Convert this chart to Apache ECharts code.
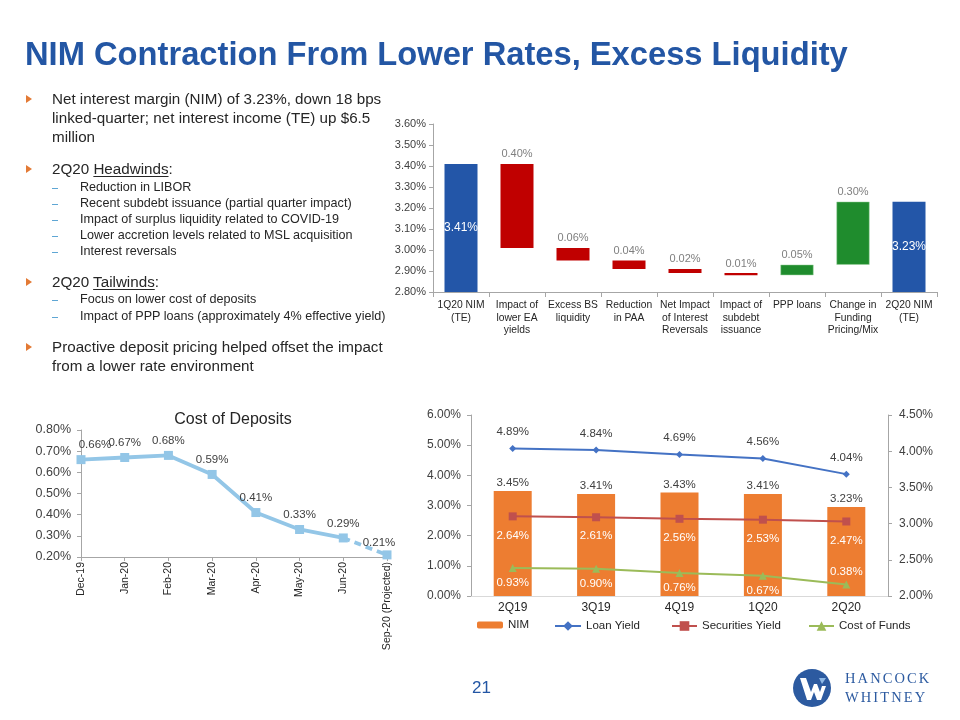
<!DOCTYPE html>
<html>
<head>
<meta charset="utf-8">
<script src="https://cdn.jsdelivr.net/npm/echarts@6/dist/echarts.min.js"></script>
<style>
html,body{margin:0;padding:0;background:#fff;}
#wrap{position:relative;width:960px;height:720px;overflow:hidden;font-family:'Liberation Sans',Arial,sans-serif;}
#chart{position:absolute;left:0;top:0;width:960px;height:720px;}
.abs{position:absolute;white-space:nowrap;}
.title{left:25px;top:37px;font-size:32.7px;line-height:33px;font-weight:bold;color:#2356A4;}
.main{left:52px;font-size:15.2px;line-height:19px;color:#262626;}
.sub{left:80px;font-size:12.6px;line-height:16px;color:#262626;}
.tri{position:absolute;width:0;height:0;border-top:4px solid transparent;border-bottom:4px solid transparent;border-left:6px solid #E37A35;}
.dash{position:absolute;left:52px;width:6px;height:1px;background:#5FA6D4;}
u{text-decoration:underline;text-underline-offset:2px;}
.pg{left:472px;top:678px;font-size:17px;color:#2356A4;}
.logo{left:845px;font-family:'Liberation Serif','DejaVu Serif',serif;font-size:14.5px;letter-spacing:2.1px;color:#2C5AA0;}
</style>
</head>
<body>
<div id="wrap">
<div id="chart"></div>
<div class="abs title">NIM Contraction From Lower Rates, Excess Liquidity</div>

<div class="tri" style="left:26px;top:95px"></div>
<div class="abs main" style="top:89px">Net interest margin (NIM) of 3.23%, down 18 bps<br>linked-quarter; net interest income (TE) up $6.5<br>million</div>

<div class="tri" style="left:26px;top:165px"></div>
<div class="abs main" style="top:159px">2Q20 <u>Headwinds</u>:</div>
<div class="dash" style="top:188px"></div>
<div class="dash" style="top:204px"></div>
<div class="dash" style="top:220px"></div>
<div class="dash" style="top:236px"></div>
<div class="dash" style="top:252px"></div>
<div class="abs sub" style="top:179px">Reduction in LIBOR<br>Recent subdebt issuance (partial quarter impact)<br>Impact of surplus liquidity related to COVID-19<br>Lower accretion levels related to MSL acquisition<br>Interest reversals</div>

<div class="tri" style="left:26px;top:278px"></div>
<div class="abs main" style="top:272px">2Q20 <u>Tailwinds</u>:</div>
<div class="dash" style="top:300px"></div>
<div class="dash" style="top:317px"></div>
<div class="abs sub" style="top:291px;line-height:17px">Focus on lower cost of deposits<br>Impact of PPP loans (approximately 4% effective yield)</div>

<div class="tri" style="left:26px;top:343px"></div>
<div class="abs main" style="top:337px">Proactive deposit pricing helped offset the impact<br>from a lower rate environment</div>

<div class="abs pg">21</div>
<div class="abs logo" style="top:670px">HANCOCK</div>
<div class="abs logo" style="top:689px">WHITNEY</div>
</div>
<script>
// ---------- Waterfall data ----------
const wfCategories = ['1Q20 NIM\n(TE)', 'Impact of\nlower EA\nyields', 'Excess BS\nliquidity', 'Reduction\nin PAA', 'Net Impact\nof Interest\nReversals', 'Impact of\nsubdebt\nissuance', 'PPP loans', 'Change in\nFunding\nPricing/Mix', '2Q20 NIM\n(TE)'];
const wfStartValue = 3.41;
const wfChanges = [-0.40, -0.06, -0.04, -0.02, -0.01, 0.05, 0.30];
const wfEndValue = 3.23;
const wfAxisTicks = [2.80, 3.60, 0.10];

// ---------- Cost of deposits data ----------
const codCategories = ['Dec-19', 'Jan-20', 'Feb-20', 'Mar-20', 'Apr-20', 'May-20', 'Jun-20', 'Sep-20 (Projected)'];
const codValues = [0.66, 0.67, 0.68, 0.59, 0.41, 0.33, 0.29, 0.21];
const codProjectedFrom = 6;
const codAxisTicks = [0.20, 0.80, 0.10];

// ---------- Yield combo data ----------
const qCategories = ['2Q19', '3Q19', '4Q19', '1Q20', '2Q20'];
const nimValues = [3.45, 3.41, 3.43, 3.41, 3.23];
const loanYield = [4.89, 4.84, 4.69, 4.56, 4.04];
const securitiesYield = [2.64, 2.61, 2.56, 2.53, 2.47];
const costOfFunds = [0.93, 0.90, 0.76, 0.67, 0.38];
const leftAxisTicks = [0, 6, 1];
const rightAxisTicks = [2, 4.5, 0.5];

// ---------- build waterfall ----------
const r2 = v => Math.round(v * 100) / 100;
const wfMin = wfAxisTicks[0];
const wfTotals = [wfStartValue].concat(wfChanges.map(() => null)).concat([wfEndValue]);
const wfBase = [], wfTotal = [], wfDown = [], wfUp = [];
let running = wfStartValue;
wfBase.push(wfMin); wfTotal.push(r2(wfStartValue - wfMin)); wfDown.push('-'); wfUp.push('-');
wfChanges.forEach(c => {
  const next = r2(running + c);
  wfBase.push(Math.min(running, next));
  wfTotal.push('-');
  if (c < 0) { wfDown.push(r2(-c)); wfUp.push('-'); } else { wfUp.push(r2(c)); wfDown.push('-'); }
  running = next;
});
wfBase.push(wfMin); wfTotal.push(r2(wfEndValue - wfMin)); wfDown.push('-'); wfUp.push('-');

// ---------- build cost of deposits ----------
const codSolid = codValues.map((v, i) => i <= codProjectedFrom ? v : '-');
const codDashed = codValues.map((v, i) => {
  if (i < codProjectedFrom) return '-';
  if (i === codProjectedFrom) return {value: v, symbol: 'none', label: {show: false}};
  return {value: v, label: {show: true, offset: [-8, 2]}};
});
const codSolidData = codSolid.map((v, i) => i === 0 ? {value: v, label: {offset: [14, 0]}} : v);

// ---------- build combo ----------
const cofData = costOfFunds.map((v, i) => i === costOfFunds.length - 1 ? {value: v, label: {position: 'top', distance: 3}} : v);

const pct = v => (typeof v === 'object' ? v.value : v).toFixed(2) + '%';
const font = 'Liberation Sans';
const axisGray = '#A6A6A6';
const txt = '#404040';
const legendText = {fontSize: 11.5, color: '#262626'};

const chart = echarts.init(document.getElementById('chart'), null, {renderer: 'canvas'});
chart.setOption({
  animation: false,
  textStyle: {fontFamily: font},
  title: [{
    text: 'Cost of Deposits', left: 228, top: 407, textAlign: 'center',
    textStyle: {fontSize: 16, fontWeight: 'normal', color: '#262626', fontFamily: font}
  }],
  grid: [
    {left: 433, top: 124, width: 504, height: 168},
    {left: 81, top: 430, width: 306, height: 127},
    {left: 471, top: 415, width: 417, height: 181}
  ],
  legend: [
    {data: ['NIM'], left: 472, top: 614, itemWidth: 26, itemHeight: 7, textStyle: legendText, selectedMode: false},
    {data: ['Loan Yield'], left: 549, top: 615, itemWidth: 26, itemHeight: 12, textStyle: legendText, selectedMode: false},
    {data: ['Securities Yield'], left: 666, top: 615, itemWidth: 25, itemHeight: 12, textStyle: legendText, selectedMode: false},
    {data: ['Cost of Funds'], left: 803, top: 615, itemWidth: 25, itemHeight: 12, textStyle: legendText, selectedMode: false}
  ],
  xAxis: [
    {
      type: 'category', gridIndex: 0, data: wfCategories,
      axisLine: {lineStyle: {color: axisGray}},
      axisTick: {show: true, length: 5, lineStyle: {color: axisGray}},
      axisLabel: {color: '#262626', fontSize: 10.3, lineHeight: 12.5, margin: 7, interval: 0}
    },
    {
      type: 'category', gridIndex: 1, data: codCategories, boundaryGap: false,
      axisLine: {lineStyle: {color: axisGray}},
      axisTick: {show: true, length: 4, lineStyle: {color: axisGray}},
      axisLabel: {color: '#262626', fontSize: 10.5, rotate: 90, margin: 5, interval: 0}
    },
    {
      type: 'category', gridIndex: 2, data: qCategories,
      axisLine: {lineStyle: {color: '#D9D9D9'}},
      axisTick: {show: false},
      axisLabel: {color: '#262626', fontSize: 12, margin: 6}
    }
  ],
  yAxis: [
    {
      type: 'value', gridIndex: 0, min: wfAxisTicks[0], max: wfAxisTicks[1], interval: wfAxisTicks[2],
      axisLine: {show: true, lineStyle: {color: axisGray}},
      axisTick: {show: true, length: 4, lineStyle: {color: axisGray}},
      splitLine: {show: false},
      axisLabel: {color: txt, fontSize: 11, margin: 7, formatter: v => v.toFixed(2) + '%'}
    },
    {
      type: 'value', gridIndex: 1, min: codAxisTicks[0], max: codAxisTicks[1], interval: codAxisTicks[2],
      axisLine: {show: true, lineStyle: {color: axisGray}},
      axisTick: {show: true, length: 4, lineStyle: {color: axisGray}},
      splitLine: {show: false},
      axisLabel: {color: txt, fontSize: 12.5, margin: 10, formatter: v => v.toFixed(2) + '%'}
    },
    {
      type: 'value', gridIndex: 2, min: leftAxisTicks[0], max: leftAxisTicks[1], interval: leftAxisTicks[2],
      axisLine: {show: true, lineStyle: {color: axisGray}},
      axisTick: {show: true, length: 4, lineStyle: {color: axisGray}},
      splitLine: {show: false},
      axisLabel: {color: txt, fontSize: 12, margin: 10, formatter: v => v.toFixed(2) + '%'}
    },
    {
      type: 'value', gridIndex: 2, position: 'right', min: rightAxisTicks[0], max: rightAxisTicks[1], interval: rightAxisTicks[2],
      axisLine: {show: true, lineStyle: {color: axisGray}},
      axisTick: {show: true, length: 4, lineStyle: {color: axisGray}},
      splitLine: {show: false},
      axisLabel: {color: txt, fontSize: 12, margin: 11, formatter: v => v.toFixed(2) + '%'}
    }
  ],
  series: [
    // waterfall
    {type: 'bar', xAxisIndex: 0, yAxisIndex: 0, stack: 'wf', data: wfBase, barWidth: 33,
      itemStyle: {color: 'transparent'}, emphasis: {disabled: true}, silent: true},
    {type: 'bar', xAxisIndex: 0, yAxisIndex: 0, stack: 'wf', data: wfTotal, barWidth: 33,
      itemStyle: {color: '#2356A8'},
      label: {show: true, position: 'inside', color: '#fff', fontSize: 12,
        formatter: p => wfTotals[p.dataIndex].toFixed(2) + '%'}},
    {type: 'bar', xAxisIndex: 0, yAxisIndex: 0, stack: 'wf', data: wfDown, barWidth: 33,
      itemStyle: {color: '#C00000'},
      label: {show: true, position: 'top', distance: 4, color: '#7F7F7F', fontSize: 11, formatter: p => pct(p.value)}},
    {type: 'bar', xAxisIndex: 0, yAxisIndex: 0, stack: 'wf', data: wfUp, barWidth: 33,
      itemStyle: {color: '#1F8C2D', borderColor: '#9CD39F', borderWidth: 0.5},
      label: {show: true, position: 'top', distance: 4, color: '#7F7F7F', fontSize: 11, formatter: p => pct(p.value)}},
    // cost of deposits
    {type: 'line', xAxisIndex: 1, yAxisIndex: 1, data: codSolidData,
      lineStyle: {color: '#93C6E7', width: 3.8}, itemStyle: {color: '#93C6E7'},
      symbol: 'rect', symbolSize: 9,
      label: {show: true, position: 'top', distance: 4, color: txt, fontSize: 11.5, formatter: p => pct(p.value)}},
    {type: 'line', xAxisIndex: 1, yAxisIndex: 1, data: codDashed,
      lineStyle: {color: '#93C6E7', width: 3.8, type: [7, 5]}, itemStyle: {color: '#93C6E7'},
      symbol: 'rect', symbolSize: 9,
      label: {show: false, position: 'top', distance: 4, color: txt, fontSize: 11.5, formatter: p => pct(p.value)}},
    // combo
    {name: 'NIM', type: 'bar', xAxisIndex: 2, yAxisIndex: 3, data: nimValues, barWidth: 38,
      itemStyle: {color: '#ED7D31'},
      label: {show: true, position: 'top', distance: 2, color: txt, fontSize: 11.5, formatter: p => pct(p.value)}},
    {name: 'Loan Yield', type: 'line', xAxisIndex: 2, yAxisIndex: 2, data: loanYield,
      lineStyle: {color: '#4472C4', width: 2}, itemStyle: {color: '#4472C4'},
      symbol: 'diamond', symbolSize: 7,
      label: {show: true, position: 'top', distance: 7, color: txt, fontSize: 11.5, formatter: p => pct(p.value)}},
    {name: 'Securities Yield', type: 'line', xAxisIndex: 2, yAxisIndex: 2, data: securitiesYield,
      lineStyle: {color: '#C0504D', width: 2}, itemStyle: {color: '#C0504D'},
      symbol: 'rect', symbolSize: 8,
      label: {show: true, position: 'bottom', distance: 9, color: '#fff', fontSize: 11.5, formatter: p => pct(p.value)}},
    {name: 'Cost of Funds', type: 'line', xAxisIndex: 2, yAxisIndex: 2, data: cofData,
      lineStyle: {color: '#9BBB59', width: 2}, itemStyle: {color: '#9BBB59'},
      symbol: 'triangle', symbolSize: 8,
      label: {show: true, position: 'bottom', distance: 5, color: '#fff', fontSize: 11.5, formatter: p => pct(p.value)}}
  ],
  graphic: [
    {type: 'circle', shape: {cx: 812, cy: 688, r: 19}, style: {fill: '#2C5AA0'}},
    {type: 'polygon', shape: {points: [[800,678],[806,678],[811,692],[814,684],[817,684],[820,692],[822,686],[826,686],[821,700],[817,700],[814,692],[811,700],[807,700]]}, style: {fill: '#fff'}},
    {type: 'polygon', shape: {points: [[819,678],[826,678],[822,684]]}, style: {fill: '#8DB8E6'}}
  ]
});
</script>
</body>
</html>
